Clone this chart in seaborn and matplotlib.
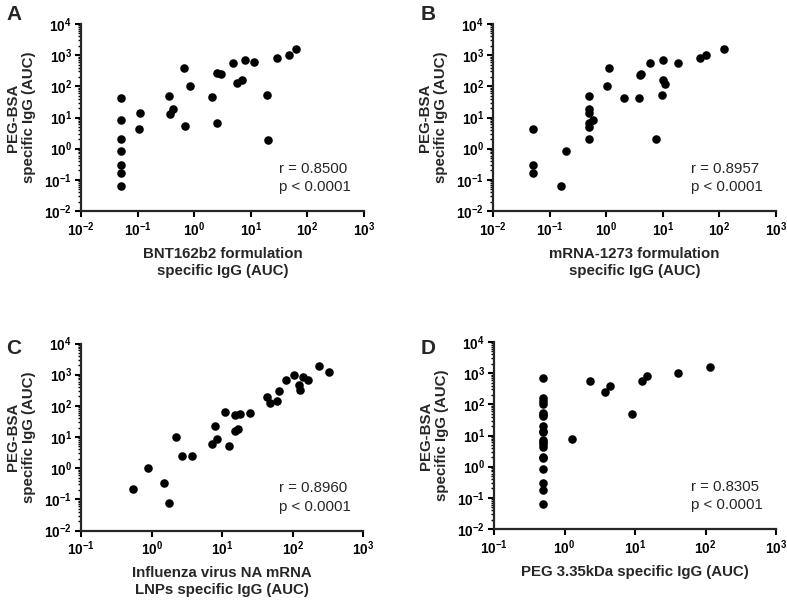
import numpy as np
import pandas as pd
import matplotlib
matplotlib.use("Agg")
import matplotlib.pyplot as plt
import matplotlib.ticker as mticker
import seaborn as sns

# ---- data (log10 values) ----
a_logx = [-1.30, -1.30, -1.30, -1.30, -1.30, -1.30, -1.30, -0.96, -0.98, -0.44, -0.37, -0.42,
          -0.18, -0.07, -0.17, 0.32, 0.41, 0.47, 0.41, 0.69, 0.89, 1.06, 0.75, 0.84, 1.28,
          1.31, 1.46, 1.67, 1.80]
a_logy = [1.63, 0.91, 0.30, -0.07, -0.54, -0.77, -1.21, 1.15, 0.63, 1.69, 1.27, 1.11,
          2.59, 2.01, 0.72, 1.67, 2.42, 2.38, 0.83, 2.76, 2.84, 2.77, 2.10, 2.19, 1.71,
          0.29, 2.92, 3.00, 3.20]

b_logx = [-1.30, -1.30, -1.30, -0.80, -0.71, -0.30, -0.30, -0.30, -0.30, -0.30, -0.23, -0.30,
          0.02, 0.05, 0.32, 0.58, 0.59, 0.61, 0.77, 0.88, 0.99, 1.01, 1.01, 1.04, 1.26,
          1.65, 1.76, 2.09]
b_logy = [0.63, -0.54, -0.77, -1.20, -0.06, 1.70, 1.28, 1.13, 0.83, 0.69, 0.92, 0.30,
          2.01, 2.58, 1.63, 1.64, 2.37, 2.41, 2.75, 0.30, 1.71, 2.84, 2.21, 2.09, 2.76,
          2.92, 3.00, 3.20]

c_logx = [-0.27, -0.05, 0.18, 0.25, 0.35, 0.43, 0.57, 0.85, 0.92, 0.90, 1.04, 1.10, 1.18,
          1.23, 1.18, 1.25, 1.39, 1.64, 1.67, 1.78, 1.80, 1.90, 2.01, 2.09, 2.10, 2.15,
          2.21, 2.37, 2.51]
c_logy = [-0.68, 0.01, -0.47, -1.11, 0.99, 0.38, 0.38, 0.79, 0.93, 1.36, 1.79, 0.72, 1.19,
          1.26, 1.71, 1.75, 1.78, 2.29, 2.09, 2.17, 2.46, 2.83, 2.99, 2.67, 2.50, 2.93,
          2.84, 3.28, 3.09]

d_logx = [-0.30] * 20 + [0.10, 0.36, 0.58, 0.64, 0.96, 1.10, 1.17, 1.61, 2.06]
d_logy = [2.84, 2.21, 2.10, 2.02, 1.71, 1.67, 1.64, 1.30, 1.15, 1.11, 0.86, 0.78, 0.72,
          0.64, 0.30, 0.29, -0.06, -0.53, -0.76, -1.20,
          0.90, 2.76, 2.38, 2.58, 1.70, 2.74, 2.90, 2.99, 3.19]

panels = ["A", "B", "C", "D"]
x_labels = ["BNT162b2 formulation\nspecific IgG (AUC)",
            "mRNA-1273 formulation\nspecific IgG (AUC)",
            "Influenza virus NA mRNA\nLNPs specific IgG (AUC)",
            "PEG 3.35kDa specific IgG (AUC)"]
y_label = "PEG-BSA\nspecific IgG (AUC)"
r_values = ["0.8500", "0.8957", "0.8960", "0.8305"]
x_limits = [(1e-2, 1e3), (1e-2, 1e3), (1e-1, 1e3), (1e-1, 1e3)]
y_limits = (1e-2, 1e4)

series = [(a_logx, a_logy), (b_logx, b_logy), (c_logx, c_logy), (d_logx, d_logy)]

sns.set_style("ticks")
plt.rcParams["font.family"] = ["Liberation Sans", "DejaVu Sans"]
plt.rcParams["mathtext.fontset"] = "custom"
plt.rcParams["mathtext.rm"] = "Liberation Sans:bold"
plt.rcParams["mathtext.bf"] = "Liberation Sans:bold"
plt.rcParams["mathtext.it"] = "Liberation Sans:bold"

W, H = 787, 601
fig = plt.figure(figsize=(W / 100, H / 100), dpi=100)

# axes rectangles in pixels: left, top, right, bottom
rects = [(81, 24, 364, 211), (493, 24, 776, 211), (81, 343.5, 363.5, 530.5), (494, 342, 776, 529)]
letter_pos = [(14, 15), (428, 15), (14, 348), (428, 348)]

def fmt(v, pos):
    e = int(round(np.log10(v)))
    return r"$\mathbf{10^{%d}}$" % e

for i, (lx, ly) in enumerate(series):
    l, t, r, b = rects[i]
    ax = fig.add_axes([l / W, 1 - b / H, (r - l) / W, (b - t) / H])
    df = pd.DataFrame({"x": 10 ** np.array(lx), "y": 10 ** np.array(ly)})
    sns.scatterplot(data=df, x="x", y="y", ax=ax, color="black", s=38,
                    edgecolor="black", linewidth=0, clip_on=False, zorder=3)
    ax.set_xscale("log")
    ax.set_yscale("log")
    ax.set_xlim(*x_limits[i])
    ax.set_ylim(*y_limits)
    for sp in ["top", "right"]:
        ax.spines[sp].set_visible(False)
    for sp in ["left", "bottom"]:
        ax.spines[sp].set_linewidth(1.6)
    ax.xaxis.set_major_locator(mticker.LogLocator(base=10, numticks=10))
    ax.xaxis.set_minor_locator(mticker.NullLocator())
    ax.yaxis.set_major_locator(mticker.LogLocator(base=10, numticks=10))
    ax.yaxis.set_minor_locator(mticker.LogLocator(base=10, subs=np.arange(2, 10), numticks=20))
    ax.yaxis.set_minor_formatter(mticker.NullFormatter())
    ax.xaxis.set_major_formatter(mticker.FuncFormatter(fmt))
    ax.yaxis.set_major_formatter(mticker.FuncFormatter(fmt))
    ax.tick_params(axis="both", which="major", length=4, width=1.5, labelsize=9.8, pad=2.5,
                   color="black", labelcolor="black")
    ax.tick_params(axis="y", which="minor", length=2.5, width=1.0, color="black")
    ax.set_xlabel(x_labels[i], fontsize=10.8, fontweight="bold", linespacing=1.3)
    ax.set_ylabel(y_label, fontsize=10.8, fontweight="bold", linespacing=1.2)
    ax.xaxis.set_label_coords(0.5, -0.19)
    ax.yaxis.set_label_coords(-0.16, 0.5)
    ax.text(0.70, 0.225, "r = " + r_values[i], transform=ax.transAxes, fontsize=10.8,
            va="center", ha="left")
    ax.text(0.70, 0.128, "p < 0.0001", transform=ax.transAxes, fontsize=10.8,
            va="center", ha="left")
    ax.grid(False)
    fx, fy = letter_pos[i]
    fig.text(fx / W, 1 - fy / H, panels[i], fontsize=15, fontweight="bold",
             ha="center", va="center")

fig.savefig("out.png", dpi=100)
